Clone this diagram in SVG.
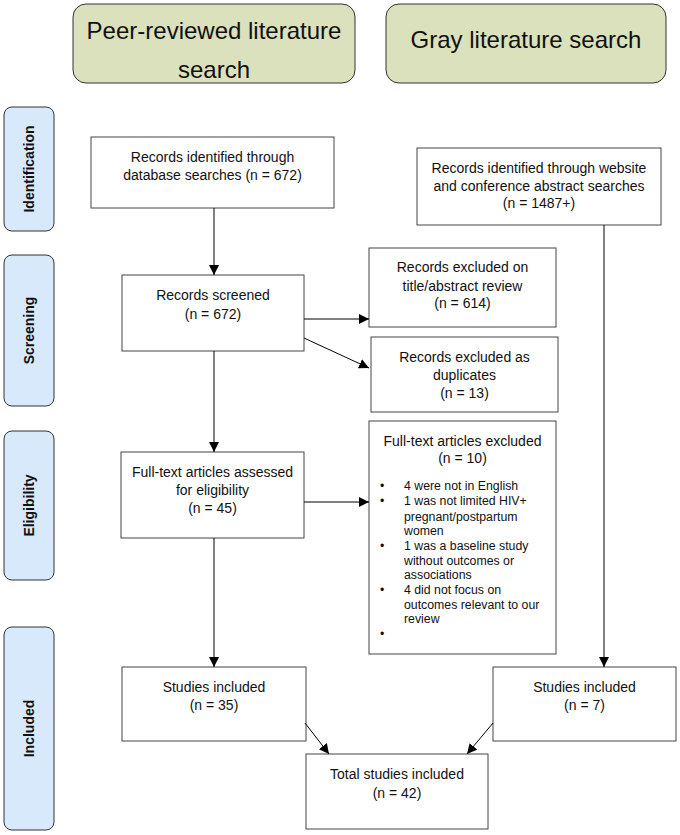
<svg xmlns="http://www.w3.org/2000/svg" width="680" height="835" viewBox="0 0 680 835">
<defs>
<marker id="ah" markerWidth="10" markerHeight="10" refX="10" refY="5" orient="auto" markerUnits="userSpaceOnUse">
<path d="M0,0 L10,5 L0,10 Z" fill="#000"/>
</marker>
<style>
text{font-family:"Liberation Sans",Arial,sans-serif;fill:#111;}
.hdr rect{fill:#dbe1bd;stroke:#333;stroke-width:1;}
.hdr text{font-size:24px;text-anchor:middle;}
.side rect{fill:#d7e9fa;stroke:#333;stroke-width:1;}
.side text{font-size:14px;font-weight:bold;text-anchor:middle;}
.box rect{fill:#fff;stroke:#444;stroke-width:1;}
.box text{font-size:14px;text-anchor:middle;}
.box text.lst{font-size:12.3px;text-anchor:start;}
.conn line{stroke:#000;stroke-width:1;fill:none;}
</style>
</defs>
<rect width="680" height="835" fill="#fff"/>

<g id="hdr-peer" class="hdr"><rect x="73" y="4" width="282" height="79" rx="13"/><text x="214" y="39">Peer-reviewed literature</text><text x="214" y="78">search</text></g>
<g id="hdr-gray" class="hdr"><rect x="386" y="4" width="280" height="79" rx="13"/><text x="526" y="48">Gray literature search</text></g>

<g id="side-identification" class="side"><rect x="4" y="107" width="50" height="124" rx="8"/><text transform="translate(34,169) rotate(-90)">Identification</text></g>
<g id="side-screening" class="side"><rect x="4" y="255" width="50" height="151" rx="8"/><text transform="translate(34,330.5) rotate(-90)">Screening</text></g>
<g id="side-eligibility" class="side"><rect x="4" y="431" width="50" height="149" rx="8"/><text transform="translate(34,505.5) rotate(-90)">Eligibility</text></g>
<g id="side-included" class="side"><rect x="4" y="627" width="50" height="203" rx="8"/><text transform="translate(34,728.5) rotate(-90)">Included</text></g>

<g id="n-db" class="box"><rect x="91" y="137" width="243" height="71"/><text x="212.5" y="162">Records identified through</text><text x="212.5" y="180">database searches (n = 672)</text></g>
<g id="n-web" class="box"><rect x="417" y="148" width="244" height="77"/><text x="539" y="173">Records identified through website</text><text x="539" y="191">and conference abstract searches</text><text x="539" y="208">(n = 1487+)</text></g>
<g id="n-screened" class="box"><rect x="122" y="275" width="182" height="76"/><text x="213" y="300">Records screened</text><text x="213" y="319">(n = 672)</text></g>
<g id="n-excl-title" class="box"><rect x="369" y="248" width="187" height="79"/><text x="462.5" y="272">Records excluded on</text><text x="462.5" y="291">title/abstract review</text><text x="462.5" y="308">(n = 614)</text></g>
<g id="n-excl-dup" class="box"><rect x="371" y="337" width="187" height="75"/><text x="464.5" y="362">Records excluded as</text><text x="464.5" y="380">duplicates</text><text x="464.5" y="398">(n = 13)</text></g>
<g id="n-assessed" class="box"><rect x="121" y="452" width="183" height="86"/><text x="212.5" y="477">Full-text articles assessed</text><text x="212.5" y="495">for eligibility</text><text x="212.5" y="513">(n = 45)</text></g>
<g id="n-excl-full" class="box"><rect x="369" y="421" width="187" height="233"/><text x="462.5" y="446">Full-text articles excluded</text><text x="462.5" y="463">(n = 10)</text>
<text x="380" y="490" class="lst">•</text><text x="404" y="490" class="lst">4 were not in English</text>
<text x="380" y="505" class="lst">•</text><text x="404" y="505" class="lst">1 was not limited HIV+</text>
<text x="404" y="521" class="lst">pregnant/postpartum</text>
<text x="404" y="535" class="lst">women</text>
<text x="380" y="550" class="lst">•</text><text x="404" y="550" class="lst">1 was a baseline study</text>
<text x="404" y="565" class="lst">without outcomes or</text>
<text x="404" y="579" class="lst">associations</text>
<text x="380" y="594" class="lst">•</text><text x="404" y="594" class="lst"> 4 did not focus on</text>
<text x="404" y="609" class="lst">outcomes relevant to our</text>
<text x="404" y="623" class="lst">review</text>
<text x="380" y="638" class="lst">•</text>
</g>
<g id="n-inc-left" class="box"><rect x="122" y="667" width="184" height="74"/><text x="214" y="692">Studies included</text><text x="214" y="710">(n = 35)</text></g>
<g id="n-inc-right" class="box"><rect x="493" y="667" width="183" height="74"/><text x="584.5" y="692">Studies included</text><text x="584.5" y="710">(n = 7)</text></g>
<g id="n-total" class="box"><rect x="306" y="754" width="182" height="75"/><text x="397" y="779">Total studies included</text><text x="397" y="798">(n = 42)</text></g>

<g id="connectors" class="conn">
<line x1="214" y1="208" x2="214" y2="275" marker-end="url(#ah)"/>
<line x1="304" y1="319" x2="369" y2="319" marker-end="url(#ah)"/>
<line x1="304" y1="338" x2="369" y2="368" marker-end="url(#ah)"/>
<line x1="214" y1="351" x2="214" y2="452" marker-end="url(#ah)"/>
<line x1="304" y1="502" x2="369" y2="502" marker-end="url(#ah)"/>
<line x1="214" y1="538" x2="214" y2="667" marker-end="url(#ah)"/>
<line x1="604" y1="225" x2="604" y2="667" marker-end="url(#ah)"/>
<line x1="305" y1="723" x2="329" y2="754" marker-end="url(#ah)"/>
<line x1="493" y1="723" x2="467" y2="754" marker-end="url(#ah)"/>
</g>
</svg>
